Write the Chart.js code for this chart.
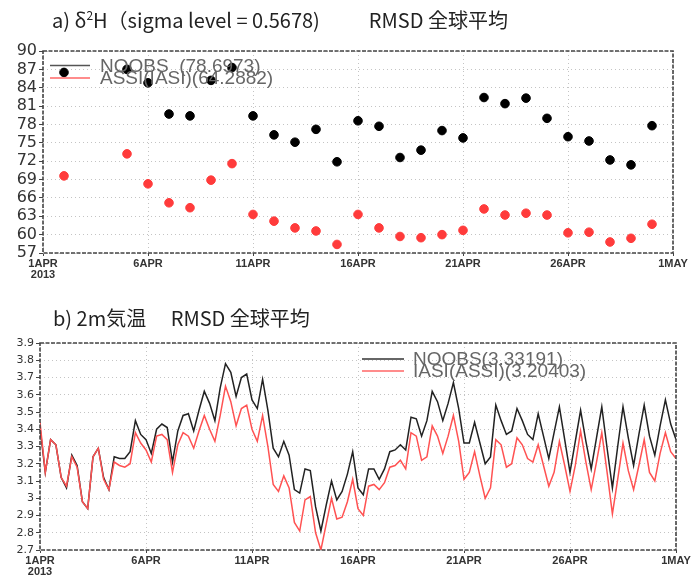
<!DOCTYPE html>
<html>
<head>
<meta charset="utf-8">
<script src="https://cdn.jsdelivr.net/npm/chart.js@4.4.1/dist/chart.umd.min.js"></script>
<style>
body{margin:0;background:#fff;}
#wrap{position:relative;width:696px;height:576px;overflow:hidden;}
canvas{position:absolute;left:0;}
.ttl{position:absolute;z-index:2;font-family:"Noto Sans CJK JP",sans-serif;font-size:20px;color:#222;white-space:pre;line-height:24px;}
.ttl sup{font-size:12px;line-height:0;}
</style>
</head>
<body>
<div id="wrap">
<canvas id="chartA" width="696" height="290" style="top:0"></canvas>
<canvas id="chartB" width="696" height="286" style="top:290px"></canvas>
<div class="ttl" style="left:52px;top:8px">a) δ<sup>2</sup>H（sigma level = 0.5678)　　  RMSD 全球平均</div>
<div class="ttl" style="left:53px;top:306px">b) 2m気温　 RMSD 全球平均</div>
</div>
<script>
// x axis: days since 1APR 2013
const dayTicks = [0,5,10,15,20,25,30];
const dayTickLabels = [["1APR","2013"],"6APR","11APR","16APR","21APR","26APR","1MAY"];

// a) daily RMSD of d2H
const topDays = [2,5,6,7,8,9,10,11,12,13,14,15,16,17,18,19,20,21,22,23,24,25,26,27,28,29,30];
const noobsTop = [86.5,87.0,84.8,79.7,79.4,85.2,87.3,79.4,76.3,75.1,77.2,71.9,78.6,77.7,72.6,73.8,77.0,75.8,82.4,81.4,82.3,79.0,76.0,75.3,72.2,71.4,77.8];
const iasiTop = [69.6,73.2,68.3,65.2,64.4,68.9,71.6,63.3,62.2,61.1,60.6,58.4,63.3,61.1,59.7,59.5,60.0,60.7,64.2,63.2,63.5,63.2,60.3,60.4,58.8,59.4,61.7];

// b) 6-hourly RMSD of 2m temperature, 1APR 00Z .. 1MAY 00Z
const noobsT2m = [3.41,3.15,3.34,3.31,3.12,3.06,3.25,3.19,2.98,2.94,
  3.24,3.29,3.12,3.05,3.24,3.23,3.23,3.27,3.45,3.37,
  3.34,3.26,3.40,3.43,3.41,3.21,3.39,3.48,3.49,3.39,
  3.51,3.62,3.55,3.45,3.64,3.78,3.73,3.59,3.70,3.72,
  3.57,3.52,3.69,3.51,3.29,3.24,3.33,3.25,3.05,3.03,
  3.17,3.16,2.95,2.81,2.96,3.10,2.99,3.04,3.14,3.27,
  3.06,3.02,3.17,3.17,3.11,3.17,3.27,3.28,3.31,3.28,
  3.47,3.46,3.36,3.45,3.62,3.56,3.45,3.55,3.67,3.52,
  3.32,3.32,3.44,3.32,3.20,3.24,3.54,3.45,3.37,3.39,
  3.52,3.45,3.37,3.34,3.49,3.36,3.23,3.38,3.53,3.34,
  3.15,3.33,3.51,3.33,3.17,3.35,3.53,3.29,3.06,3.30,
  3.53,3.35,3.19,3.37,3.54,3.36,3.25,3.42,3.57,3.43,
  3.34];
const iasiT2m = [3.44,3.15,3.34,3.31,3.12,3.07,3.24,3.18,2.98,2.94,
  3.24,3.29,3.11,3.05,3.21,3.19,3.18,3.20,3.38,3.32,
  3.28,3.21,3.36,3.37,3.34,3.15,3.31,3.38,3.36,3.29,
  3.39,3.48,3.40,3.33,3.48,3.65,3.56,3.42,3.52,3.54,
  3.40,3.33,3.48,3.30,3.08,3.04,3.13,3.06,2.86,2.81,
  2.99,3.01,2.80,2.70,2.85,3.00,2.88,2.89,2.98,3.11,
  2.94,2.90,3.07,3.08,3.05,3.09,3.18,3.19,3.22,3.17,
  3.38,3.36,3.22,3.24,3.42,3.36,3.26,3.36,3.48,3.33,
  3.11,3.15,3.27,3.13,3.00,3.06,3.34,3.31,3.18,3.20,
  3.35,3.31,3.23,3.21,3.31,3.19,3.07,3.15,3.33,3.19,
  3.04,3.19,3.39,3.21,3.05,3.21,3.38,3.15,2.91,3.11,
  3.32,3.16,3.05,3.19,3.34,3.15,3.10,3.26,3.38,3.27,
  3.23];

const legendA = ["NOOBS  (78.6973)", "ASSI(IASI)(64.2882)"];
const legendB = ["NOOBS(3.33191)", "IASI(ASSI)(3.20403)"];

// dashed frame + in-plot legend, GrADS style
const gradsPlugin = {
  id: "grads",
  afterDraw(chart, args, opts){
    let ctx = chart.ctx;
    let a = chart.chartArea;
    ctx.save();
    ctx.strokeStyle = "#444";
    ctx.lineWidth = 1.6;
    ctx.setLineDash([4,1.5]);
    ctx.strokeRect(a.left, a.top, a.right-a.left, a.bottom-a.top);
    ctx.setLineDash([]);
    ctx.font = opts.font;
    ctx.textBaseline = "middle";
    opts.items.forEach((it) => {
      ctx.strokeStyle = it.color;
      ctx.lineWidth = 1.5;
      ctx.beginPath();
      ctx.moveTo(opts.x, it.y);
      ctx.lineTo(opts.x+opts.len, it.y);
      ctx.stroke();
      ctx.fillStyle = "#666";
      ctx.fillText(it.text, opts.x+opts.len+opts.gap, it.y+1);
    });
    ctx.restore();
  }
};

function xScale(){
  return {
    type: "linear", min: 0, max: 30,
    afterBuildTicks: (s) => { s.ticks = dayTicks.map(v => ({value: v})); },
    ticks: {
      autoSkip: false, maxRotation: 0, padding: 2,
      color: "#333",
      font: {family: "'Liberation Sans Narrow','Liberation Sans',sans-serif", size: 11, weight: "bold", lineHeight: 1.0},
      callback: (v) => dayTickLabels[dayTicks.indexOf(v)]
    },
    grid: {color: "#c4c4c4", lineWidth: 1, drawTicks: true, tickLength: 3, tickColor: "#444", tickBorderDash: []},
    border: {display: false, dash: [1,3]}
  };
}

function yScale(min, max, step, fontSize, width){
  return {
    min: min, max: max,
    afterFit: (s) => { s.width = width; },
    ticks: {
      stepSize: step, autoSkip: false, color: "#333", padding: 2,
      font: {family: "'DejaVu Sans',sans-serif", size: fontSize},
      callback: (v) => String(Number(v.toFixed(1)))
    },
    grid: {color: "#c4c4c4", lineWidth: 1, drawTicks: true, tickLength: 4, tickColor: "#444", tickBorderDash: []},
    border: {display: false, dash: [1,3]}
  };
}

let ctxA = document.getElementById("chartA").getContext("2d");
new Chart(ctxA, {
  type: "scatter",
  data: {
    datasets: [
      {label: "NOOBS", data: topDays.map((d,i) => ({x: d-1, y: noobsTop[i]})),
       backgroundColor: "#000", borderColor: "#000", pointRadius: 4.3, pointHoverRadius: 4.3},
      {label: "ASSI(IASI)", data: topDays.map((d,i) => ({x: d-1, y: iasiTop[i]})),
       backgroundColor: "#ff3b3b", borderColor: "#ff3b3b", pointRadius: 4.3, pointHoverRadius: 4.3}
    ]
  },
  options: {
    responsive: false, animation: false,
    layout: {padding: {left: 0, right: 23, top: 51, bottom: 0}},
    scales: {
      x: Object.assign(xScale(), {afterFit: (s) => { s.height = 37; }}),
      y: yScale(57, 90, 3, 16, 43)
    },
    plugins: {
      legend: {display: false}, tooltip: {enabled: false},
      grads: {font: "19px 'Liberation Sans',sans-serif", x: 50, len: 40, gap: 10,
        items: [{text: legendA[0], color: "#555", y: 65.5}, {text: legendA[1], color: "#ff6666", y: 78}]}
    }
  },
  plugins: [gradsPlugin]
});

let ctxB = document.getElementById("chartB").getContext("2d");
new Chart(ctxB, {
  type: "line",
  data: {
    datasets: [
      {label: "NOOBS", data: noobsT2m.map((v,i) => ({x: i/4, y: v})),
       borderColor: "#222", borderWidth: 1.5, pointRadius: 0, tension: 0, order: 2},
      {label: "IASI(ASSI)", data: iasiT2m.map((v,i) => ({x: i/4, y: v})),
       borderColor: "#ff5252", borderWidth: 1.5, pointRadius: 0, tension: 0, order: 1}
    ]
  },
  options: {
    responsive: false, animation: false,
    layout: {padding: {left: 0, right: 20, top: 53, bottom: 0}},
    scales: {
      x: Object.assign(xScale(), {afterFit: (s) => { s.height = 26; }}),
      y: yScale(2.7, 3.9, 0.1, 11, 40)
    },
    plugins: {
      legend: {display: false}, tooltip: {enabled: false},
      grads: {font: "19px 'Liberation Sans',sans-serif", x: 362, len: 42, gap: 9,
        items: [{text: legendB[0], color: "#333", y: 69}, {text: legendB[1], color: "#ff6666", y: 81}]}
    }
  },
  plugins: [gradsPlugin]
});
</script>
</body>
</html>
